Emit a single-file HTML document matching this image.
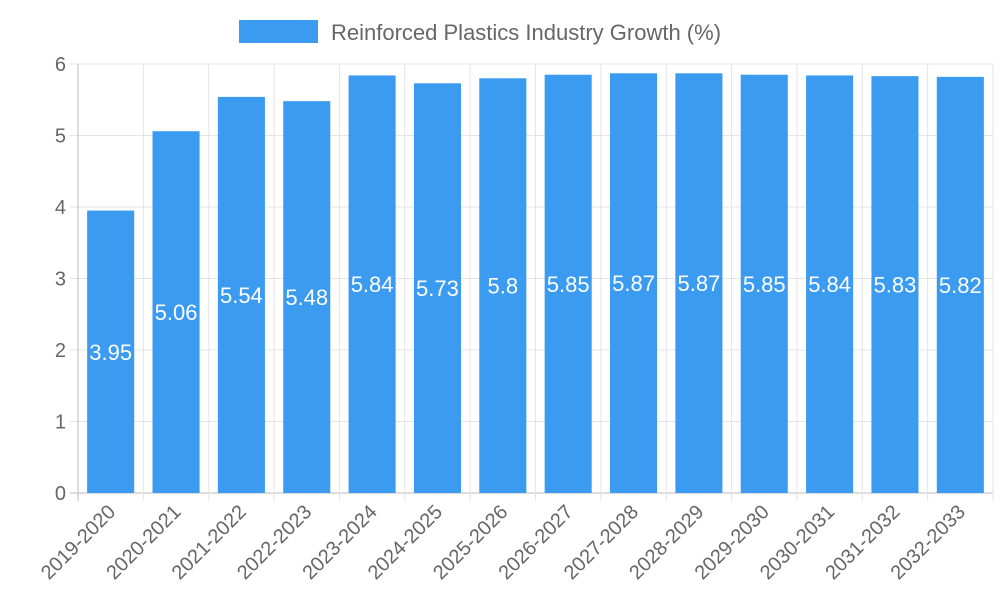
<!DOCTYPE html>
<html><head><meta charset="utf-8"><style>
body{margin:0;background:#fff;}
svg text{font-family:"Liberation Sans",sans-serif;}
</style></head><body>
<svg id="chart" width="1000" height="600" xmlns="http://www.w3.org/2000/svg">
<g>
<rect x="239" y="20" width="79" height="23" fill="#3a9bf0"/>
<text x="331" y="40" font-size="22" fill="#666">Reinforced Plastics Industry Growth (%)</text>
</g>
<g id="grid"></g>
<g id="bars"></g>
<g id="axes"></g>
</svg>
<script>
const categories=["2019-2020","2020-2021","2021-2022","2022-2023","2023-2024","2024-2025","2025-2026","2026-2027","2027-2028","2028-2029","2029-2030","2030-2031","2031-2032","2032-2033"];
const values=[3.95,5.06,5.54,5.48,5.84,5.73,5.8,5.85,5.87,5.87,5.85,5.84,5.83,5.82];
const yTicks=[0,1,2,3,4,5,6];
const NS="http://www.w3.org/2000/svg";
const L=78,R=993,T=64,B=493,yMax=6;
const band=(R-L)/categories.length;
const xs=i=>L+band*i;
const ys=v=>B-(B-T)*v/yMax;
function mk(tag,attrs,parent,text){const e=document.createElementNS(NS,tag);for(const k in attrs)e.setAttribute(k,attrs[k]);if(text!==undefined)e.textContent=text;parent.appendChild(e);return e;}
const grid=document.getElementById('grid'),bars=document.getElementById('bars'),axes=document.getElementById('axes');
yTicks.forEach(t=>{
 const y=ys(t);
 const g=mk('line',{x1:L-8,x2:R,y1:y,y2:y,stroke:t===0?'#bbb':'#e4e4e4','stroke-width':1},grid);
 
 
 const tx=mk('text',{x:L-12,y:y+7,'font-size':20,fill:'#666','text-anchor':'end'},axes,String(t));
 
 
});
for(let i=0;i<=categories.length;i++){
 const x=xs(i);
 const g=mk('line',{x1:x,x2:x,y1:T,y2:B+8,stroke:i===0?'#bbb':'#e4e4e4','stroke-width':1},grid);
 
 
}
categories.forEach((c,i)=>{
 const bw=band*0.72,x=xs(i)+(band-bw)/2,y=ys(values[i]);
 const r=mk('rect',{x:x,y:y,width:bw,height:B-y,fill:'#3a9bf0'},bars);
 
 
 const cx=xs(i)+band/2;
 const lb=mk('text',{x:cx,y:(y+B)/2+8,'font-size':22,fill:'#fff','text-anchor':'middle'},bars,String(values[i]));
 
 
 const xl=mk('text',{x:cx+6,y:B+20,'font-size':20,fill:'#666','text-anchor':'end',transform:`rotate(-45 ${cx+6} ${B+20})`},axes,c);
 
 
});
</script>
</body></html>
